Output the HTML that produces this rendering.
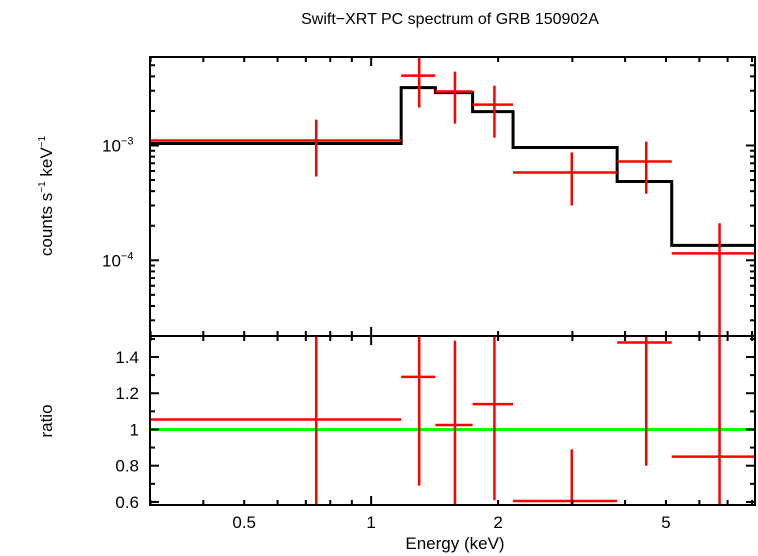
<!DOCTYPE html>
<html><head><meta charset="utf-8"><style>
html,body{margin:0;padding:0;background:#fff;width:758px;height:556px;overflow:hidden;}
svg{display:block;font-family:"Liberation Sans",sans-serif;}
</style></head><body>
<svg id="chart" width="758" height="556" viewBox="0 0 758 556">
<text x="450" y="24" font-size="16" text-anchor="middle">Swift−XRT PC spectrum of GRB 150902A</text>
<text transform="translate(52,196) rotate(-90)" font-size="17" text-anchor="middle">counts s<tspan font-size="10" dy="-7">−1</tspan><tspan dy="7"> keV</tspan><tspan font-size="10" dy="-7">−1</tspan></text>
<text transform="translate(52,421) rotate(-90)" font-size="17" text-anchor="middle">ratio</text>
<text x="455" y="549" font-size="17" text-anchor="middle">Energy (keV)</text>
<g id="g"></g>
</svg>
<script>
const binLo = [0.3, 1.178, 1.42, 1.74, 2.17, 3.83, 5.16];
const binHi = [1.178, 1.42, 1.74, 2.17, 3.83, 5.16, 8.13];
const centers = [0.741, 1.30, 1.58, 1.96, 2.99, 4.49, 6.7];
const rates = [1.105e-3, 4.06e-3, 2.95e-3, 2.27e-3, 5.82e-4, 7.26e-4, 1.15e-4];
const rateErrHi = [1.68e-3, 6.2e-3, 4.4e-3, 3.32e-3, 8.7e-4, 1.08e-3, 2.1e-4];
const rateErrLo = [5.37e-4, 2.14e-3, 1.55e-3, 1.17e-3, 3.0e-4, 3.8e-4, 1e-6];
const model = [1.04e-3, 3.19e-3, 2.89e-3, 1.97e-3, 9.6e-4, 4.86e-4, 1.35e-4];
const ratios = [1.055, 1.29, 1.025, 1.14, 0.605, 1.48, 0.85];
const ratioErrHi = [2.0, 2.0, 1.49, 2.0, 0.89, 2.0, 2.0];
const ratioErrLo = [0.0, 0.69, 0.0, 0.61, 0.0, 0.80, 0.0];
const xTickLabels = ["0.5", "1", "2", "5"];
const xTickVals = [0.5, 1, 2, 5];
const ratioTickLabels = ["0.6", "0.8", "1", "1.2", "1.4"];

const L=150,R=755,T1=57,B1=336,T2=336,B2=505;
const xMin=0.299,xMax=8.13;
const X=e=>L+(R-L)*(Math.log10(e)-Math.log10(xMin))/(Math.log10(xMax)-Math.log10(xMin));
const yMin1=2.19e-5,yMax1=5.9e-3;
const Y1=v=>{const y=B1-(B1-T1)*(Math.log10(Math.max(v,1e-12))-Math.log10(yMin1))/(Math.log10(yMax1)-Math.log10(yMin1));return Math.min(Math.max(y,T1-4),B1+4);};
const rMin=0.583,rMax=1.516;
const Y2=v=>{const y=B2-(B2-T2)*(v-rMin)/(rMax-rMin);return Math.min(Math.max(y,T2-4),B2+4);};
const NS="http://www.w3.org/2000/svg";
const g=document.getElementById('g');
function el(tag,attrs,parent){const e=document.createElementNS(NS,tag);for(const k in attrs)e.setAttribute(k,attrs[k]);(parent||g).appendChild(e);return e;}
const clip1=el('clipPath',{id:'c1'});el('rect',{x:L,y:T1,width:R-L,height:B1-T1},clip1);
const clip2=el('clipPath',{id:'c2'});el('rect',{x:L,y:T2,width:R-L,height:B2-T2},clip2);
const p1=el('g',{'clip-path':'url(#c1)'});


const p2=el('g',{'clip-path':'url(#c2)'});



let d='';
for(let i=0;i<model.length;i++){const y=Y1(model[i]);d+=(i==0?'M':'L')+X(binLo[i])+','+y+'L'+X(binHi[i])+','+y;}
const m=el('path',{d:d,fill:'none',stroke:'#000','stroke-width':3},p1);



for(let i=0;i<rates.length;i++){
  const gr=el('g',{stroke:'#f00','stroke-width':2.5},p1);
  
  
  el('line',{x1:X(binLo[i]),x2:X(binHi[i]),y1:Y1(rates[i]),y2:Y1(rates[i])},gr);
  el('line',{x1:X(centers[i]),x2:X(centers[i]),y1:Y1(rateErrLo[i]),y2:Y1(rateErrHi[i])},gr);
}
const gl=el('line',{x1:L,x2:R,y1:Y2(1),y2:Y2(1),stroke:'#0f0','stroke-width':3},p2);


for(let i=0;i<ratios.length;i++){
  const gr=el('g',{stroke:'#f00','stroke-width':2.5},p2);
  
  
  el('line',{x1:X(binLo[i]),x2:X(binHi[i]),y1:Y2(ratios[i]),y2:Y2(ratios[i])},gr);
  el('line',{x1:X(centers[i]),x2:X(centers[i]),y1:Y2(ratioErrLo[i]),y2:Y2(ratioErrHi[i])},gr);
}
const f1=el('rect',{x:L,y:T1,width:R-L,height:B1-T1,fill:'none',stroke:'#000','stroke-width':2});


const f2=el('rect',{x:L,y:T2,width:R-L,height:B2-T2,fill:'none',stroke:'#000','stroke-width':2});


const tk=el('g',{stroke:'#000','stroke-width':2});


const xt=[0.3,0.4,0.5,0.6,0.7,0.8,0.9,1,2,3,4,5,6,7,8];
xt.forEach(e=>{const x=X(e);const len=(e==1)?9:5;
  [[T1,1],[B1,-1],[T2,1],[B2,-1]].forEach(([y,s])=>el('line',{x1:x,x2:x,y1:y,y2:y+s*len},tk));});
for(let dec=-5;dec<=-3;dec++)for(let k=1;k<=9;k++){const v=k*Math.pow(10,dec);if(v<yMin1||v>yMax1)continue;const y=Y1(v);const len=k==1?9:5;
  el('line',{x1:L,x2:L+len,y1:y,y2:y},tk);el('line',{x1:R,x2:R-len,y1:y,y2:y},tk);}
for(let v=0.6;v<=1.51;v+=0.1){const y=Y2(v);const major=Math.round(v*10)%2==0;const len=major?9:5;
  el('line',{x1:L,x2:L+len,y1:y,y2:y},tk);el('line',{x1:R,x2:R-len,y1:y,y2:y},tk);}
xTickVals.forEach((v,i)=>{const t=el('text',{x:X(v),y:528,'font-size':17,'text-anchor':'middle'});t.textContent=xTickLabels[i];
  
  });
ratioTickLabels.forEach(s=>{const t=el('text',{x:139,y:Y2(parseFloat(s))+6,'font-size':17,'text-anchor':'end'});t.textContent=s;
  
  });
[-3,-4].forEach(p=>{const t=el('text',{x:102,y:Y1(Math.pow(10,p))+6,'font-size':17});t.innerHTML='10<tspan font-size="11" dy="-7">−'+(-p)+'</tspan>';
  
  });
</script>
</body></html>
